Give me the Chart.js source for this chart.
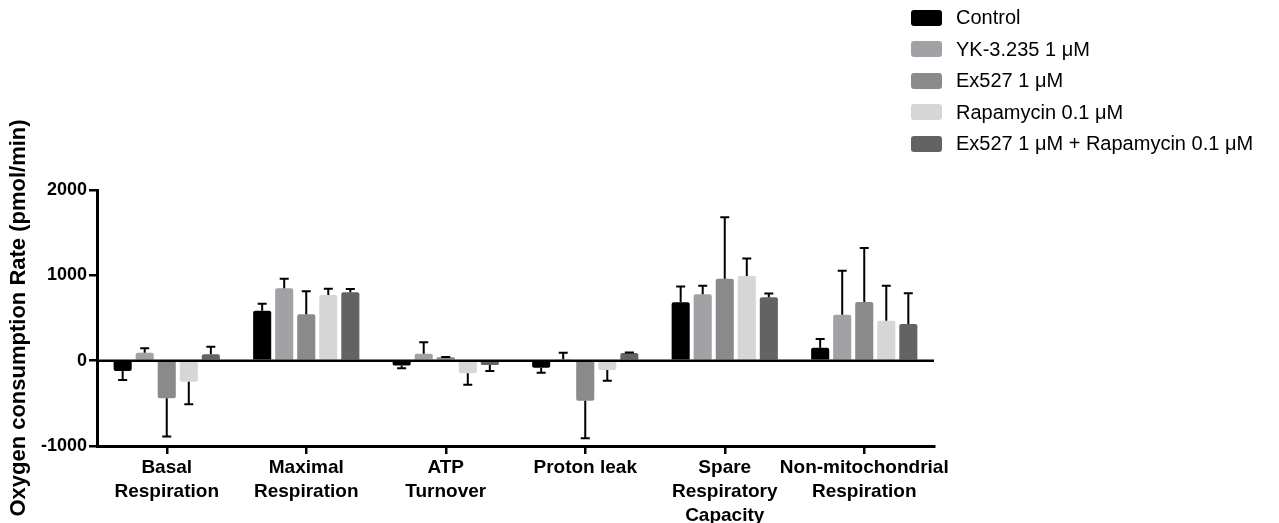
<!DOCTYPE html>
<html>
<head>
<meta charset="utf-8">
<script src="https://cdn.jsdelivr.net/npm/chart.js@4.4.1/dist/chart.umd.min.js"></script>
<style>
  body { margin: 0; background: #fff; font-family: "Liberation Sans", Arial, sans-serif; }
  #wrap { position: relative; width: 1279px; height: 523px; }
  #leyenda { position: absolute; left: 911px; top: 2px; }
  .fila { height: 31.5px; display: flex; align-items: center; font-size: 20px; color: #000; }
  .caja { width: 31px; height: 16px; border-radius: 3px; margin-right: 14px; }
</style>
</head>
<body>
<div id="wrap">
  <canvas id="grafico" width="1279" height="523"></canvas>
  <div id="leyenda"></div>
</div>
<script>
// Categorías y series
const categorias = [
  ['Basal', 'Respiration'],
  ['Maximal', 'Respiration'],
  ['ATP', 'Turnover'],
  ['Proton leak'],
  ['Spare', 'Respiratory', 'Capacity'],
  ['Non-mitochondrial', 'Respiration']
];
const nombres = ['Control', 'YK-3.235 1 μM', 'Ex527 1 μM', 'Rapamycin 0.1 μM', 'Ex527 1 μM + Rapamycin 0.1 μM'];
const colores = ['#000000', '#a2a2a6', '#8a8a8a', '#d6d6d6', '#636363'];

const control = [-120, 586, -58, -82, 685, 152];
const yk = [94, 849, 82, 16, 778, 539];
const ex527 = [-441, 544, 40, -469, 961, 688];
const rapa = [-246, 770, -148, -109, 993, 469];
const combo = [75, 802, -50, 90, 743, 430];

// Desviaciones (barras de error, hacia afuera del cero)
const sdControl = [106, 82, 32, 59, 183, 102];
const sdYk = [51, 112, 134, 78, 101, 516];
const sdEx527 = [449, 270, 3, 441, 720, 633];
const sdRapa = [265, 74, 133, 125, 203, 410];
const sdCombo = [89, 38, 71, 5, 43, 360];

const yTicks = [-1000, 0, 1000, 2000];

const series = [control, yk, ex527, rapa, combo];
const errores = [sdControl, sdYk, sdEx527, sdRapa, sdCombo];

// Leyenda en HTML
const leyenda = document.getElementById('leyenda');
nombres.forEach((n, i) => {
  const fila = document.createElement('div');
  fila.className = 'fila';
  fila.innerHTML = `<div class="caja" style="background:${colores[i]}"></div><span>${n}</span>`;
  leyenda.appendChild(fila);
});

// Plugin: línea del cero y barras de error
const errorBars = {
  id: 'errorBars',
  afterDatasetsDraw(chart) {
    const ctx = chart.ctx;
    const y = chart.scales.y;
    const area = chart.chartArea;
    ctx.save();
    ctx.strokeStyle = '#000';
    ctx.lineWidth = 2.5;
    const y0 = y.getPixelForValue(0);
    ctx.beginPath();
    ctx.moveTo(area.left, y0);
    ctx.lineTo(area.right, y0);
    ctx.stroke();

    ctx.lineWidth = 2;
    chart.data.datasets.forEach((ds, i) => {
      const meta = chart.getDatasetMeta(i);
      meta.data.forEach((bar, j) => {
        const v = ds.data[j];
        const e = errores[i][j];
        const fin = v >= 0 ? v + e : v - e;
        const yFin = y.getPixelForValue(fin);
        ctx.beginPath();
        ctx.moveTo(bar.x, bar.y);
        ctx.lineTo(bar.x, yFin);
        ctx.moveTo(bar.x - 4.5, yFin);
        ctx.lineTo(bar.x + 4.5, yFin);
        ctx.stroke();
      });
    });
    ctx.restore();
  }
};

const ctx = document.getElementById('grafico').getContext('2d');
new Chart(ctx, {
  type: 'bar',
  data: {
    labels: categorias,
    datasets: series.map((d, i) => ({
      label: nombres[i],
      data: d,
      backgroundColor: colores[i],
      borderWidth: 0,
      borderRadius: 2,
      categoryPercentage: 0.79,
      barPercentage: 0.82
    }))
  },
  options: {
    responsive: false,
    animation: false,
    layout: { padding: { top: 190, right: 345, left: 0, bottom: 0 } },
    plugins: {
      legend: { display: false },
      tooltip: { enabled: false }
    },
    scales: {
      x: {
        afterFit: s => { s.height = 77; },
        grid: { offset: false, drawOnChartArea: false, color: '#000', lineWidth: 2.5, tickLength: 8 },
        border: { color: '#000', width: 3 },
        ticks: {
          color: '#000',
          padding: 2,
          maxRotation: 0,
          autoSkip: false,
          font: { family: 'Liberation Sans', size: 19, weight: 'bold', lineHeight: 1.25 }
        }
      },
      y: {
        min: -1000,
        max: 2000,
        afterFit: s => { s.width = 97; },
        afterBuildTicks: s => { s.ticks = yTicks.map(v => ({ value: v })); },
        grid: { drawOnChartArea: false, color: '#000', lineWidth: 2.5, tickLength: 8 },
        border: { color: '#000', width: 3 },
        ticks: {
          color: '#000',
          padding: 2,
          callback: v => String(v),
          font: { family: 'Liberation Sans', size: 18, weight: 'bold' }
        },
        title: {
          display: true,
          text: 'Oxygen consumption Rate (pmol/min)',
          color: '#000',
          padding: { top: 6, bottom: 2 },
          font: { family: 'Liberation Sans', size: 22, weight: 'bold' }
        }
      }
    }
  },
  plugins: [errorBars]
});
</script>
</body>
</html>
